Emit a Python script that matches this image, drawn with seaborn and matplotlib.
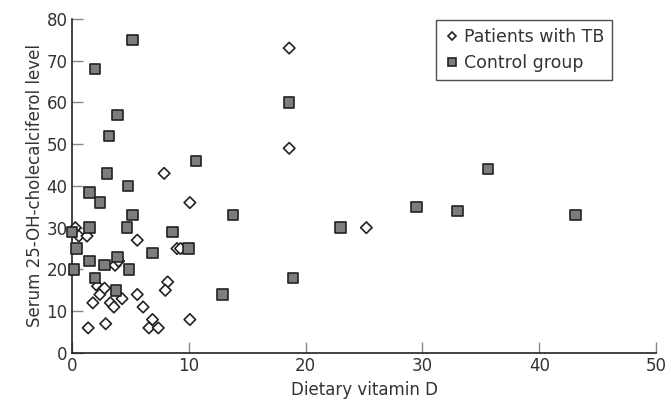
import numpy as np
import pandas as pd
import matplotlib
matplotlib.use("Agg")
import matplotlib.pyplot as plt
import seaborn as sns

# ── Data ─────────────────────────────────────────────────────────────────────
tb_x = [18.6, 18.6, 25.2, 7.9, 10.1, 0.3, 0.6, 1.3, 5.6, 9.0, 9.3, 3.7, 4.0,
        8.2, 8.0, 2.2, 2.6, 2.4, 2.8, 1.8, 3.3, 3.6, 4.3, 5.6, 6.1, 1.4, 2.9,
        6.9, 6.6, 7.4, 10.1]
tb_y = [73, 49, 30, 43, 36, 30, 28, 28, 27, 25, 25, 21, 22,
        17, 15, 16, 15, 14, 15.5, 12, 12, 11, 13, 14, 11, 6, 7,
        8, 6, 6, 8]

ctl_x = [5.2, 2.0, 3.9, 3.2, 18.6, 10.6, 3.0, 4.8, 1.5, 2.4, 5.2, 13.8, 1.5,
         0.0, 4.7, 8.6, 0.4, 10.0, 6.9, 1.5, 2.8, 3.9, 4.9, 0.2, 2.0, 3.8,
         12.9, 18.9, 23.0, 29.5, 33.0, 35.6, 43.1]
ctl_y = [75, 68, 57, 52, 60, 46, 43, 40, 38.4, 36, 33, 33, 30,
         29, 30, 29, 25, 25, 24, 22, 21, 23, 20, 20, 18, 15,
         14, 18, 30, 35, 34, 44, 33]

groups = ["Patients with TB", "Control group"]
x_ticks = [0, 10, 20, 30, 40, 50]
y_ticks = [0, 10, 20, 30, 40, 50, 60, 70, 80]

df = pd.DataFrame({
    "x": tb_x + ctl_x,
    "y": tb_y + ctl_y,
    "group": [groups[0]] * len(tb_x) + [groups[1]] * len(ctl_x),
})

sns.set_style("white")
plt.rcParams["font.family"] = ["DejaVu Sans"]
TXT = "#333333"

fig = plt.figure(figsize=(6.71, 4.09), dpi=100)
ax = fig.add_axes([0.107, 0.137, 0.871, 0.817])

sns.scatterplot(data=df, x="x", y="y", hue="group", style="group",
                hue_order=groups, style_order=groups,
                palette={groups[0]: "white", groups[1]: "#7d7d7d"},
                markers={groups[0]: "D", groups[1]: "s"},
                size="group", sizes={groups[0]: 34, groups[1]: 56},
                edgecolor="#222222", linewidth=1.2, ax=ax, clip_on=False,
                legend=True, zorder=3)

ax.set_xlim(0, 50)
ax.set_ylim(0, 80)
ax.set_xticks(x_ticks)
ax.set_yticks(y_ticks)
ax.tick_params(direction="in", length=8, width=1, color="#888888",
               bottom=True, left=True,
               labelsize=12, labelcolor=TXT, pad=3)
for s in ["top", "right"]:
    ax.spines[s].set_visible(False)
for s in ["left", "bottom"]:
    ax.spines[s].set_color("#222222")
    ax.spines[s].set_linewidth(1.2)
ax.set_xlabel("Dietary vitamin D", fontsize=12, color=TXT, labelpad=4)
ax.set_ylabel("Serum 25-OH-cholecalciferol level", fontsize=12, color=TXT, labelpad=2)

h, l = ax.get_legend_handles_labels()
leg = ax.legend(h, l, loc="upper right", bbox_to_anchor=(0.925, 0.995),
                frameon=True, fancybox=False, edgecolor="#222222",
                fontsize=12.5, markerscale=0.7, handletextpad=0.2,
                borderpad=0.45, labelspacing=0.45, handlelength=1.0,
                borderaxespad=0.0)
leg.get_frame().set_linewidth(1.0)
for t in leg.get_texts():
    t.set_color(TXT)

plt.savefig("out.png", dpi=100)
